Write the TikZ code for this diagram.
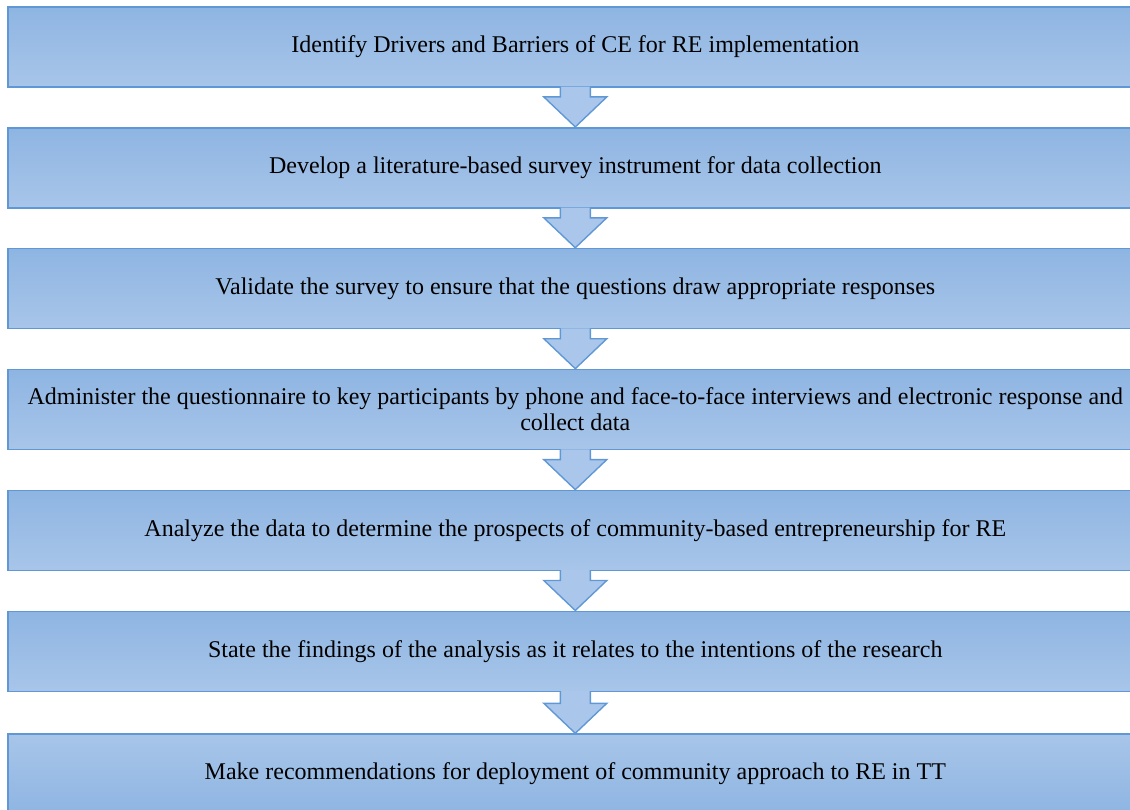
\documentclass[tikz,border=0pt]{standalone}
\usepackage{fontspec}
\setmainfont{Liberation Serif}
\newfontfamily\stagefont{Liberation Serif}
\usetikzlibrary{positioning,calc}

\definecolor{boxtop}{RGB}{142,181,226}
\definecolor{boxbot}{RGB}{168,197,233}
\definecolor{boxline}{RGB}{96,152,214}
\definecolor{arrfill}{RGB}{170,199,235}

\tikzset{
  stage/.style={rectangle, draw=boxline, line width=0.8pt,
    top color=boxtop, bottom color=boxbot,
    minimum width=567.5pt, minimum height=40pt, inner sep=2pt,
    align=center, font=\stagefont\fontsize{12}{13}\selectfont},
  laststage/.style={stage, top color=boxbot, bottom color=boxtop},
  flowarr/.style={draw=boxline, line width=0.7pt, fill=arrfill, line join=miter}
}

% block arrow from the bottom of one stage to the top of the next
\newcommand{\flowarrow}[2]{%
  \path[flowarr] ($(#1.south)+(-15,-1)$) -- ($(#2.north)+(-15,-30)$)
    -- ++(-16.5,0) -- (#2.north) -- ($(#2.north)+(31.5,-30)$)
    -- ++(-16.5,0) -- ($(#1.south)+(15,-1)$);}

\begin{document}
\begin{tikzpicture}[x=0.5pt, y=-0.5pt, node distance=19.65pt]
    \useasboundingbox (0,0) rectangle (1130,809);
    \clip (0,0) rectangle (1130,809);
    % stages
    \node[stage, anchor=north west] (s1) at (7,6) {Identify Drivers and Barriers of CE for RE implementation};
    \node[stage, below=of s1] (s2) {Develop a literature-based survey instrument for data collection};
    \node[stage, below=of s2] (s3) {Validate the survey to ensure that the questions draw appropriate responses};
    \node[stage, below=of s3] (s4) {Administer the questionnaire to key participants by phone and face-to-face interviews and electronic response and\\collect data};
    \node[stage, below=of s4] (s5) {Analyze the data to determine the prospects of community-based entrepreneurship for RE};
    \node[stage, below=of s5] (s6) {State the findings of the analysis as it relates to the intentions of the research};
    \node[laststage, below=20.6pt of s6] (s7) {Make recommendations for deployment of community approach to RE in TT};
    % arrows between stages
    \foreach \a/\b in {s1/s2, s2/s3, s3/s4, s4/s5, s5/s6, s6/s7}
        \flowarrow{\a}{\b};
\end{tikzpicture}
\end{document}
